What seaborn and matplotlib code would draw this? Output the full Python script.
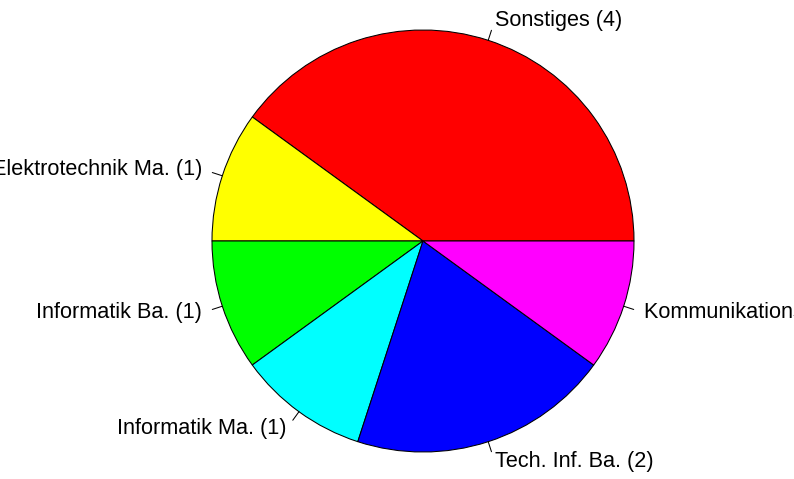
import matplotlib
matplotlib.use("Agg")
import matplotlib.pyplot as plt
import seaborn as sns
import numpy as np

# Daten (Reihenfolge wie im R-Pie, gegen den Uhrzeigersinn ab 3 Uhr)
studiengaenge = ["Sonstiges", "Elektrotechnik Ma.", "Informatik Ba.",
                 "Informatik Ma.", "Tech. Inf. Ba.", "Kommunikationstechnik Ma."]
anzahl = [4, 1, 1, 1, 2, 1]
farben = ["#FF0000", "#FFFF00", "#00FF00", "#00FFFF", "#0000FF", "#FF00FF"]

labels = [f"{s} ({n})" for s, n in zip(studiengaenge, anzahl)]

sns.set_theme(style="white")
plt.rcParams['font.family'] = ['Liberation Sans', 'DejaVu Sans']

fig = plt.figure(figsize=(7.94, 4.79), dpi=100)
ax = fig.add_axes([0, 0, 1, 1])

wedges, texts = ax.pie(anzahl, labels=labels, colors=farben, startangle=0,
                       counterclock=True, labeldistance=1.1,
                       wedgeprops=dict(edgecolor="black", linewidth=0.75),
                       textprops=dict(fontsize=15.6, color="black"))

# kleine Striche vom Rand zum Label (wie in R)
for w in wedges:
    mitte = np.deg2rad((w.theta1 + w.theta2) / 2)
    ax.plot([np.cos(mitte), 1.05 * np.cos(mitte)],
            [np.sin(mitte), 1.05 * np.sin(mitte)],
            color="black", linewidth=0.75)

# Mittelpunkt bei (423, 241) px, Radius 211 px
ax.set_xlim(-423 / 211, 371 / 211)
ax.set_ylim(-238 / 211, 241 / 211)
ax.set_aspect("equal")
ax.axis("off")

fig.savefig("out.png", dpi=100)
